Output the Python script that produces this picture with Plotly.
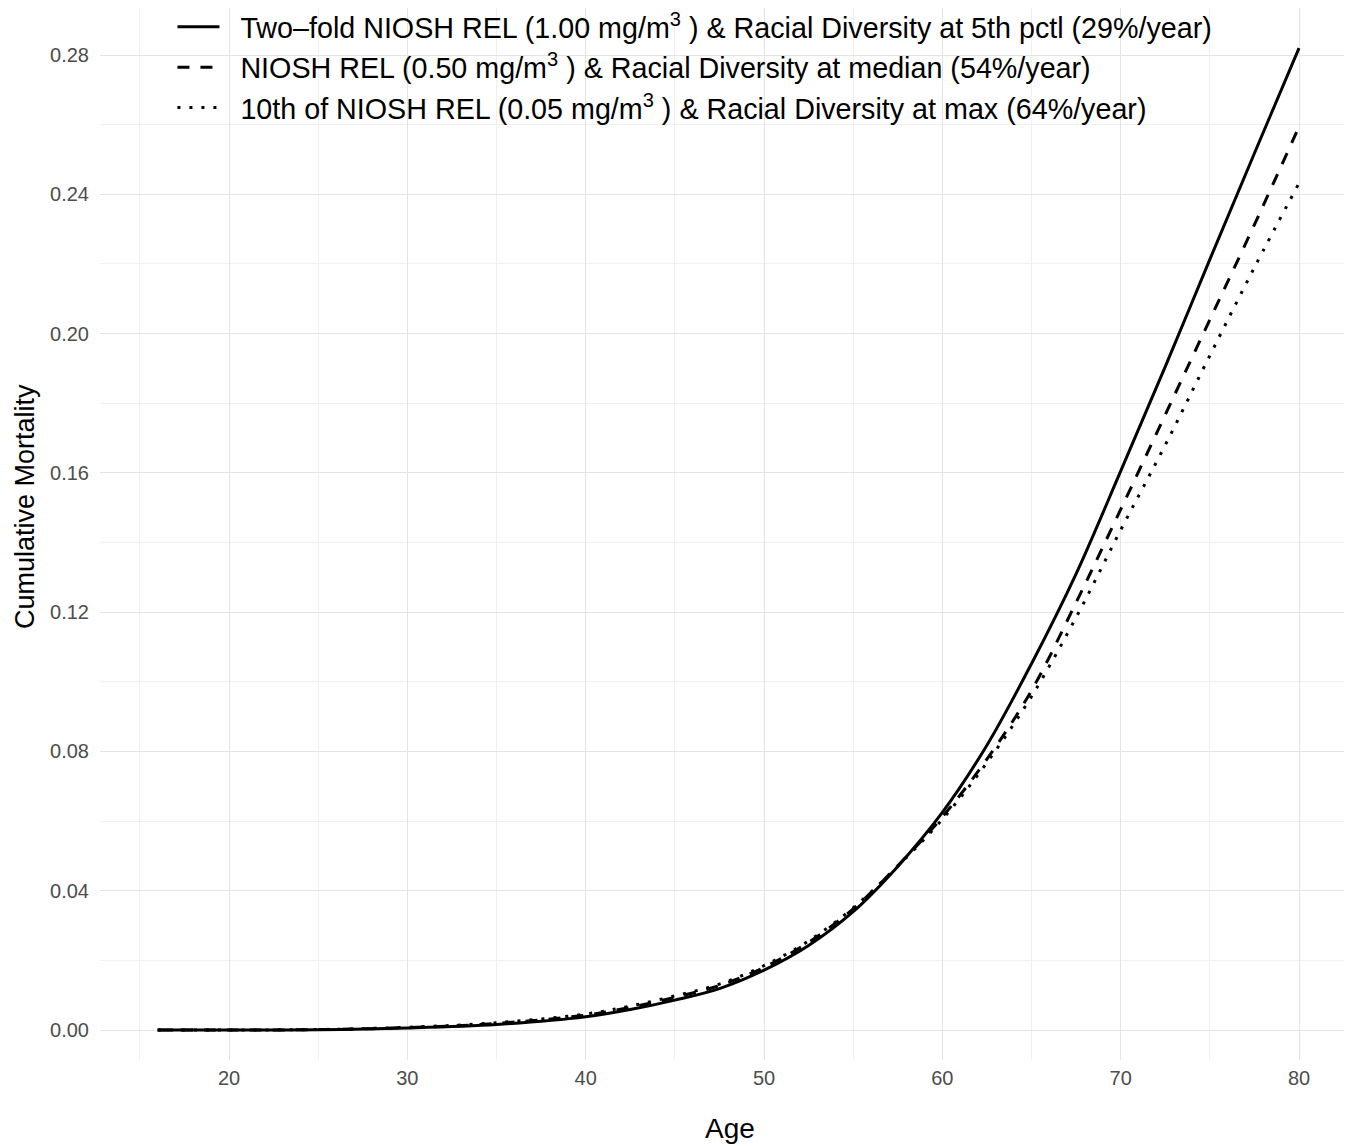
import plotly.graph_objects as go

# Data
ages = [16, 20, 25, 30, 35, 40, 42.5, 45, 47.5, 50, 52.5, 55, 57.5, 60, 62.5, 65, 67.5, 70,
        72.5, 75, 77.5, 80]

two_fold = [0.0, 0.00002, 0.0001, 0.0006, 0.0016, 0.0038, 0.0059, 0.0086, 0.0119, 0.0172,
            0.0243, 0.0340, 0.0470, 0.0625, 0.0818, 0.1052, 0.1310, 0.1605, 0.1905, 0.2213,
            0.2518, 0.2820]
rel = [0.0, 0.00002, 0.00012, 0.0007, 0.0019, 0.0043, 0.0065, 0.0094, 0.0128, 0.0180,
       0.0252, 0.0348, 0.0472, 0.0612, 0.0778, 0.0975, 0.1228, 0.1495, 0.1767, 0.2040,
       0.2313, 0.2594]
tenth = [0.0, 0.00003, 0.00015, 0.0008, 0.0021, 0.0046, 0.0069, 0.0098, 0.0132, 0.0185,
         0.0256, 0.0351, 0.0471, 0.0605, 0.0768, 0.0958, 0.1185, 0.1436, 0.1680, 0.1937,
         0.2190, 0.2432]

names = [
    "Two–fold NIOSH REL (1.00 mg/m<sup>3</sup> ) & Racial Diversity at 5th pctl (29%/year)",
    "NIOSH REL (0.50 mg/m<sup>3</sup> ) & Racial Diversity at median (54%/year)",
    "10th of NIOSH REL (0.05 mg/m<sup>3</sup> ) & Racial Diversity at max (64%/year)",
]
series = [two_fold, rel, tenth]
dashes = ["solid", "12px,11px", "3px,9px"]

x_ticks = [20, 30, 40, 50, 60, 70, 80]
y_ticks = [0.00, 0.04, 0.08, 0.12, 0.16, 0.20, 0.24, 0.28]
y_ticklabels = ["0.00", "0.04", "0.08", "0.12", "0.16", "0.20", "0.24", "0.28"]

fig = go.Figure()
for name, vals, dsh in zip(names, series, dashes):
    fig.add_trace(go.Scatter(
        x=ages, y=vals, mode="lines", name="\u00a0\u00a0" + name,
        line=dict(color="black", width=3, dash=dsh, shape="spline", smoothing=1.0),
    ))

W, H = 1352, 1146
left, right, top, bottom = 92, 0, 0, 94

fig.update_layout(
    width=W, height=H,
    margin=dict(l=left, r=right, t=top, b=bottom, pad=0, autoexpand=False),
    paper_bgcolor="white", plot_bgcolor="white",
    font=dict(family="Liberation Sans, Arial, sans-serif", color="black"),
    showlegend=True,
    legend=dict(
        x=0.0575, y=1.006, xanchor="left", yanchor="top",
        bgcolor="rgba(0,0,0,0)",
        font=dict(size=28.7, color="black"),
        itemwidth=42, tracegroupgap=0,
    ),
    xaxis=dict(
        range=[12.765, 83.42],
        tickmode="array", tickvals=x_ticks,
        ticktext=[str(v) for v in x_ticks],
        tickfont=dict(size=20, color="#4D4D4D"),
        showgrid=True, gridcolor="#E4E4E4", gridwidth=1.3,
        minor=dict(dtick=5, tick0=0, showgrid=True, gridcolor="#F0F0F0", gridwidth=0.8),
        zeroline=False, showline=False, ticks="",
        ticklabelstandoff=4,
        title=dict(text="Age", font=dict(size=28, color="black"), standoff=30),
    ),
    yaxis=dict(
        range=[-0.0086, 0.2935],
        tickmode="array", tickvals=y_ticks, ticktext=y_ticklabels,
        tickfont=dict(size=20, color="#4D4D4D"),
        showgrid=True, gridcolor="#E4E4E4", gridwidth=1.3,
        minor=dict(dtick=0.02, tick0=0, showgrid=True, gridcolor="#F0F0F0", gridwidth=0.8),
        zeroline=False, showline=False, ticks="",
        ticklabelstandoff=10,
    ),
    annotations=[dict(
        text="Cumulative Mortality", textangle=-90,
        xref="paper", yref="paper",
        x=(17 - 92) / 1260, y=(1052 - 499) / 1052,
        xanchor="center", yanchor="middle", showarrow=False,
        font=dict(size=27, color="black"),
    )],
)

fig.write_html("out.html")
